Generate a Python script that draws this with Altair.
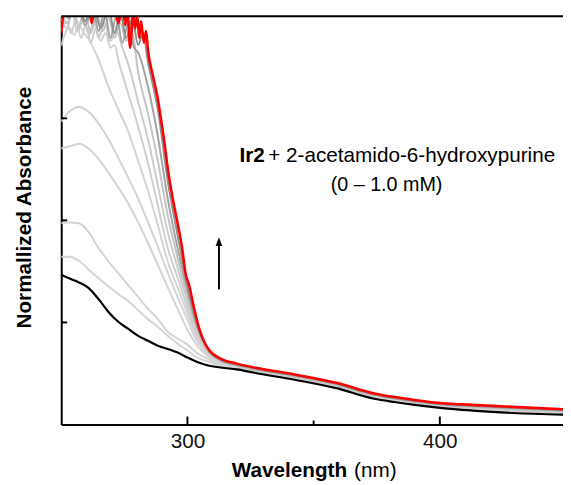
import altair as alt
import pandas as pd

# ---------------- data ----------------
WL_GRID = [250, 253.1, 257, 260.9, 264.8, 268.8, 272.7, 276.6, 280.5, 284.4,
           288.3, 292.2, 296.1, 300, 303.9, 307.8, 313.7, 319.5]
WL_TAIL = [327, 343, 359, 374, 382, 390, 401, 413, 429, 449]

# 0 mM (black)
BLACK_WL = WL_GRID + WL_TAIL
BLACK_A = [36.7, 35.8, 34.8, 33.4, 30.7, 27.5, 25.1, 23.4, 21.7, 20.5, 19.3, 18.5,
           17.6, 16.4, 15.3, 14.5, 13.9, 13.5,
           12.6, 10.9, 8.9, 6.3, 5.5, 4.8, 4.0, 3.4, 2.8, 2.4]

# intermediate additions (gray)
C01_WL = WL_GRID + WL_TAIL
C01_A = [41.1, 41.1, 40.1, 37.9, 35.8, 33.8, 31.9, 30.2, 28.0, 25.8, 23.9, 21.7,
         19.8, 18.1, 16.4, 15.5, 14.3, 13.6,
         12.7, 11.0, 9.0, 6.4, 5.6, 4.9, 4.1, 3.5, 2.9, 2.5]

C02_WL = WL_GRID + WL_TAIL
C02_A = [49.3, 49.5, 49.3, 47.1, 43.2, 39.9, 37.0, 34.1, 31.2, 28.3, 25.8, 22.7,
         21.0, 19.6, 17.4, 16.2, 14.5, 13.8,
         12.8, 11.1, 9.1, 6.5, 5.7, 5.0, 4.2, 3.6, 3.0, 2.6]

C03_WL = WL_GRID + WL_TAIL
C03_A = [67.6, 68.1, 68.8, 67.6, 65.0, 61.6, 58.0, 54.1, 49.5, 44.4, 39.1, 33.6,
         28.3, 23.2, 19.3, 16.9, 14.7, 13.9,
         12.9, 11.2, 9.2, 6.6, 5.8, 5.1, 4.3, 3.7, 3.1, 2.7]

C04_WL = WL_GRID + WL_TAIL
C04_A = [74.2, 76.6, 77.8, 76.6, 73.7, 69.8, 65.2, 60.4, 55.3, 49.5, 43.5, 37.2,
         31.2, 25.6, 20.3, 17.4, 15.0, 14.0,
         13.0, 11.3, 9.3, 6.7, 5.9, 5.2, 4.4, 3.8, 3.2, 2.8]

C05_WL = [250, 251.6, 253.1, 255.1, 257.0, 259.0, 260.9, 262.9, 264.8,
          268.8, 272.7, 276.6, 280.5, 284.4, 288.3, 292.2, 296.1, 300, 303.9,
          307.8, 313.7, 319.5] + WL_TAIL
C05_A = [92.8, 95.9, 97.3, 95.4, 97.8, 95.9, 94.4, 92.0, 89.4,
         82.6, 77.1, 71.7, 64.5, 57.2, 48.8, 39.9, 33.6, 27.1, 21.0,
         17.6, 15.1, 14.1,
         13.1, 11.4, 9.4, 6.8, 6.0, 5.3, 4.5, 4.0, 3.4, 2.9]

C06_WL = [250, 252.0, 253.9, 255.9, 257.8, 259.8, 261.7, 263.7, 265.6, 267.6,
          269.5, 271.1, 272.7, 276.6, 280.5, 284.4, 288.3, 292.2, 296.1, 300,
          303.9, 307.8, 313.7, 319.5] + WL_TAIL
C06_A = [96.4, 98.8, 95.9, 99.5, 94.7, 97.8, 93.5, 97.1, 94.0, 95.9,
         92.3, 93.0, 89.1, 80.9, 72.9, 64.0, 53.6, 43.2, 36.0, 28.5,
         21.7, 17.9, 15.2, 14.3,
         13.2, 11.5, 9.5, 6.9, 6.1, 5.4, 4.6, 4.1, 3.5, 3.0]

C07_WL = [250, 252.3, 254.3, 256.3, 258.6, 260.9, 262.9, 264.8, 267.2, 269.5,
          271.9, 274.2, 276.6, 280.5, 284.4, 288.3, 292.2, 296.1, 300, 303.9,
          307.8, 313.7, 319.5] + WL_TAIL
C07_A = [99.5, 97.1, 101.2, 96.4, 100.2, 95.4, 98.8, 94.7, 98.3, 94.0,
         96.4, 92.3, 88.2, 79.0, 69.8, 58.5, 47.1, 38.4, 30.0, 22.5,
         18.1, 15.3, 14.4,
         13.3, 11.6, 9.6, 7.0, 6.2, 5.5, 4.7, 4.2, 3.6, 3.1]

C08_WL = [250, 252.3, 254.7, 257.0, 259.4, 261.7, 264.1, 266.4, 268.8, 271.1,
          273.4, 275.8, 278.1, 280.5, 284.4, 288.3, 292.2, 296.1, 300, 303.9,
          307.8, 313.7, 319.5] + WL_TAIL
C08_A = [101.9, 98.3, 101.9, 97.1, 101.2, 95.9, 100.7, 96.4, 99.5, 94.7,
         98.3, 94.0, 95.9, 86.2, 76.1, 64.5, 51.2, 40.8, 31.4, 23.2,
         18.4, 15.5, 14.5,
         13.4, 11.7, 9.7, 7.1, 6.3, 5.6, 4.8, 4.3, 3.8, 3.3]

C09_WL = [250, 253.1, 256.3, 259.4, 262.5, 264.8, 267.2, 269.5, 271.9, 274.2,
          276.6, 278.9, 280.5, 284.4, 288.3, 292.2, 296.1, 300, 303.9,
          307.8, 313.7, 319.5] + WL_TAIL
C09_A = [103.1, 99.5, 103.1, 97.8, 101.9, 96.4, 101.2, 94.7, 100.2, 93.5,
         98.3, 92.3, 91.1, 82.6, 70.5, 55.3, 43.2, 32.9, 23.9,
         18.6, 15.6, 14.6,
         13.6, 11.9, 9.9, 7.3, 6.4, 5.7, 4.9, 4.5, 4.0, 3.4]

C10_WL = [250, 253.1, 256.3, 259.4, 262.5, 265.6, 268.8, 271.1, 273.4, 275.8,
          278.1, 280.5, 282.4, 284.4, 288.3, 292.2, 296.1, 300, 303.9,
          307.8, 313.7, 319.5] + WL_TAIL
C10_A = [104.3, 100.7, 104.3, 98.8, 103.1, 97.1, 101.9, 95.9, 100.7, 94.7,
         99.5, 93.0, 95.9, 88.7, 77.1, 59.7, 46.4, 34.1, 24.6,
         18.8, 15.7, 14.7,
         13.7, 12.0, 10.0, 7.4, 6.5, 5.8, 5.0, 4.6, 4.1, 3.5]

# 1.0 mM (red)
RED_WL = [250, 251.6, 253.9, 256.3, 258.6, 260.9, 262.1, 263.7, 266.4, 268.8,
          271.1, 272.7, 274.2, 275.4, 276.2, 277.3, 278.5, 279.3, 280.1, 280.9,
          281.6, 282.8, 283.6, 284.4, 286.3, 288.3, 289.5, 291.0, 292.2, 294.1,
          296.1, 298.0, 299.2, 300.8, 302.7, 304.7, 306.6, 309.0, 312.9, 319.5] + WL_TAIL
RED_A = [95.9, 103.1, 105.1, 101.9, 104.3, 102.7, 98.3, 104.3, 101.9, 105.1,
         102.7, 98.3, 103.1, 97.8, 101.9, 92.3, 100.7, 97.1, 100.2, 94.7,
         98.8, 93.5, 96.4, 91.5, 85.5, 79.7, 74.9, 68.6, 62.8, 55.6,
         49.3, 42.8, 37.2, 33.8, 28.3, 23.4, 20.3, 17.9, 16.2, 14.9,
         13.9, 12.2, 10.2, 7.6, 6.7, 6.0, 5.2, 4.8, 4.3, 3.7]

GRAY_NAMES = ["c01", "c02", "c03", "c04", "c05", "c06", "c07", "c08", "c09", "c10"]
GRAY_COLORS = ["#d4d4d4", "#d4d4d4", "#d4d4d4", "#d4d4d4", "#d4d4d4",
               "#d0d0d0", "#cccccc", "#c4c4c4", "#a3a3a3", "#8e8e8e"]
GRAY_SERIES = [(C01_WL, C01_A), (C02_WL, C02_A), (C03_WL, C03_A), (C04_WL, C04_A),
               (C05_WL, C05_A), (C06_WL, C06_A), (C07_WL, C07_A), (C08_WL, C08_A),
               (C09_WL, C09_A), (C10_WL, C10_A)]

X_TICKS_MAJOR = [300, 400]
X_TICKS_MINOR = [350]
Y_TICKS = [25, 50, 75]

# ---------------- tables ----------------
rows = []
for name, (wl, a) in zip(GRAY_NAMES, GRAY_SERIES):
    for w, v in zip(wl, a):
        rows.append({"curve": name, "wl": w, "a": v})
gray_df = pd.DataFrame(rows)
black_df = pd.DataFrame({"wl": BLACK_WL, "a": BLACK_A})
red_df = pd.DataFrame({"wl": RED_WL, "a": RED_A})

W, H = 509, 414
FONT = "Liberation Sans"

xs = alt.Scale(domain=[250, 448.8], nice=False, zero=False)
ys = alt.Scale(domain=[0, 100], nice=False, zero=False)

x_enc = alt.X("wl:Q", scale=xs,
              axis=alt.Axis(values=X_TICKS_MAJOR, ticks=False, grid=False, title=None,
                            labelFont=FONT, labelFontSize=21, labelColor="#111111",
                            labelPadding=6, domainColor="black", domainWidth=2,
                            labelFlush=False))
y_enc = alt.Y("a:Q", scale=ys,
              axis=alt.Axis(labels=False, ticks=False, grid=False, title=None,
                            domainColor="black", domainWidth=2))

gray = alt.Chart(gray_df).mark_line(clip=True, strokeWidth=2, strokeJoin="round",
                                    interpolate="monotone").encode(
    x=x_enc, y=y_enc,
    color=alt.Color("curve:N", scale=alt.Scale(domain=GRAY_NAMES, range=GRAY_COLORS), legend=None),
)
black = alt.Chart(black_df).mark_line(clip=True, strokeWidth=2.2, color="black",
                                      interpolate="monotone").encode(x=x_enc, y=y_enc)
red = alt.Chart(red_df).mark_line(clip=True, strokeWidth=2.6, color="#ff0000",
                                  interpolate="monotone").encode(x=x_enc, y=y_enc)

one = pd.DataFrame({"k": [0]})

top_border = alt.Chart(one).mark_rule(color="black", strokeWidth=2).encode(
    x=alt.value(0), x2=alt.value(W), y=alt.value(0))

ytick_df = pd.DataFrame({"a": Y_TICKS})
yticks = alt.Chart(ytick_df).mark_rule(color="black", strokeWidth=2).encode(
    y=y_enc, x=alt.value(0), x2=alt.value(6))

xmaj_df = pd.DataFrame({"wl": X_TICKS_MAJOR})
xmaj = alt.Chart(xmaj_df).mark_rule(color="black", strokeWidth=2).encode(
    x=x_enc, y=alt.value(H), y2=alt.value(H - 8))
xmin_df = pd.DataFrame({"wl": X_TICKS_MINOR})
xmin = alt.Chart(xmin_df).mark_rule(color="black", strokeWidth=2).encode(
    x=x_enc, y=alt.value(H), y2=alt.value(H - 4))

ytitle = alt.Chart(one).mark_text(text="Normallized Absorbance", angle=270, font=FONT,
                                  fontSize=21, fontWeight="bold", align="center",
                                  baseline="alphabetic", color="black").encode(
    x=alt.value(-31), y=alt.value(194))

xtitle_b = alt.Chart(one).mark_text(text="Wavelength", font=FONT, fontSize=21,
                                    fontWeight="bold", align="right",
                                    baseline="alphabetic", color="black").encode(
    x=alt.value(290), y=alt.value(467))
xtitle_n = alt.Chart(one).mark_text(text="(nm)", font=FONT, fontSize=21,
                                    align="left", baseline="alphabetic", color="black").encode(
    x=alt.value(297), y=alt.value(467))

ann_b = alt.Chart(one).mark_text(text="Ir2", font=FONT, fontSize=21, fontWeight="bold",
                                 align="right", baseline="alphabetic", color="black").encode(
    x=alt.value(206.5), y=alt.value(148))
ann_r = alt.Chart(one).mark_text(text="+ 2-acetamido-6-hydroxypurine", font=FONT, fontSize=21,
                                 align="left", baseline="alphabetic", color="black").encode(
    x=alt.value(210), y=alt.value(148))
ann_2 = alt.Chart(one).mark_text(text="(0 \u2013 1.0 mM)", font=FONT, fontSize=20,
                                 align="center", baseline="alphabetic", color="black").encode(
    x=alt.value(330), y=alt.value(177))

arrow_line = alt.Chart(one).mark_rule(color="black", strokeWidth=2).encode(
    x=alt.value(160), y=alt.value(277), y2=alt.value(232))
arrow_head = alt.Chart(one).mark_point(shape="M0,-1L0.75,1L-0.75,1Z", filled=True, size=81,
                                       color="black", opacity=1, strokeWidth=0).encode(
    x=alt.value(160), y=alt.value(228.5))

chart = alt.layer(
    gray, black, red, top_border, yticks, xmaj, xmin,
    ytitle, xtitle_b, xtitle_n, ann_b, ann_r, ann_2, arrow_line, arrow_head
).properties(
    width=W, height=H,
    autosize=alt.AutoSizeParams(type="none"),
    padding={"left": 54, "top": 5, "right": 0, "bottom": 58},
    background="white",
).configure_view(stroke=None)

chart.save("out.html", embed_options={"renderer": "svg", "actions": False})
